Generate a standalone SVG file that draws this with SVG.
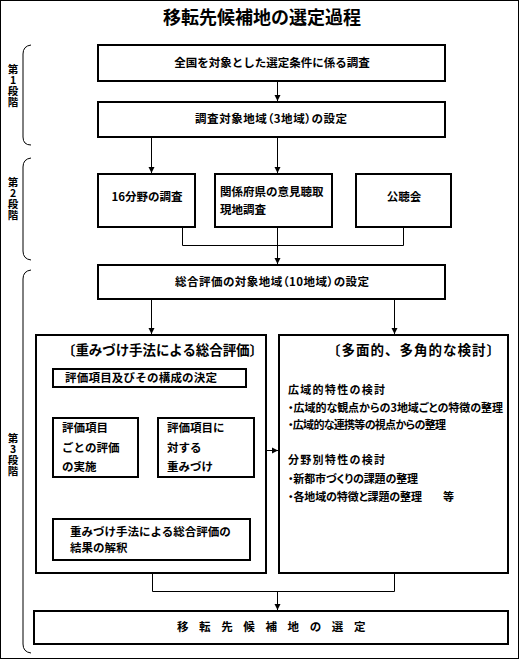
<svg xmlns="http://www.w3.org/2000/svg" width="520" height="660" viewBox="0 0 520 660">
<defs>
<marker id="ah" markerUnits="userSpaceOnUse" markerWidth="7" markerHeight="7" refX="6" refY="3.5" orient="auto">
<path d="M0,0.5 L6,3.5 L0,6.5 z" fill="#000"/>
</marker>
<style>
text{font-family:"Noto Sans CJK JP","Noto Sans CJK SC",sans-serif;font-weight:bold;fill:#000;font-size:11.5px}
.box{fill:#fff;stroke:#000;stroke-width:2}
.ln{fill:none;stroke:#000;stroke-width:1}
.arr{fill:none;stroke:#000;stroke-width:1;marker-end:url(#ah)}
.br{fill:none;stroke:#000;stroke-width:1}
.c{text-anchor:middle}
.t{font-size:18px}
.h{font-size:13.5px}
.r{font-size:11px}
.p{font-feature-settings:"palt"}
.st{font-size:10.5px;writing-mode:vertical-rl;text-orientation:upright;letter-spacing:0.5px}
</style>
</defs>
<rect x="0.5" y="0.5" width="518" height="658" fill="#fff" stroke="#000" stroke-width="1"/>
<text id="title" class="t c" x="262" y="24">移転先候補地の選定過程</text>

<g id="stage1">
<path class="br" d="M31,45 Q23,46 23,54 V137 Q23,145 31,145"/>
<text class="st" x="13" y="64">第1段階</text>
</g>
<g id="stage2">
<path class="br" d="M31,158 Q23,159 23,167 V251 Q23,259 31,260"/>
<text class="st" x="13" y="177">第2段階</text>
</g>
<g id="stage3">
<path class="br" d="M31,270 Q23,271 23,279 V644 Q23,652 31,653"/>
<text class="st" x="13" y="433">第3段階</text>
</g>

<g id="connectors">
<path class="arr" d="M277.5,82 V101"/>
<path class="arr" d="M151.5,137 V173"/>
<path class="arr" d="M277.5,137 V173"/>
<path class="ln" d="M182.5,227 V245.5 H403.5 V227"/>
<path class="arr" d="M277.5,227 V264"/>
<path class="arr" d="M151.5,299 V334"/>
<path class="arr" d="M394.5,299 V334"/>
<path class="arr" d="M146.5,387 V401"/>
<path class="ln" d="M95.5,417 V402.5 H200.5 V417"/>
<path class="ln" d="M95.5,477 V497.5 H200.5 V477"/>
<path class="arr" d="M150.5,497.5 V518"/>
<path class="arr" d="M267,450.5 H278"/>
<path class="ln" d="M152.5,573 V591.5 H394.5 V573"/>
<path class="arr" d="M277.5,591.5 V610"/>
</g>

<g id="n1">
<rect class="box" x="98" y="45" width="347" height="36"/>
<text class="c" x="272" y="67">全国を対象とした選定条件に係る調査</text>
</g>
<g id="n2">
<rect class="box" x="98" y="102" width="347" height="35"/>
<text class="p" x="195" y="123" textLength="152">調査対象地域（3地域）の設定</text>
</g>
<g id="n3">
<rect class="box" x="98" y="174" width="97" height="53"/>
<text class="c" x="147" y="201">16分野の調査</text>
</g>
<g id="n4">
<rect class="box" x="215" y="174" width="117" height="53"/>
<text x="220" y="196">関係府県の意見聴取</text>
<text x="220" y="214">現地調査</text>
</g>
<g id="n5">
<rect class="box" x="356" y="174" width="95" height="53"/>
<text class="c" x="404" y="201">公聴会</text>
</g>
<g id="n6">
<rect class="box" x="98" y="265" width="347" height="34"/>
<text class="p" x="175" y="286" textLength="194">総合評価の対象地域（10地域）の設定</text>
</g>
<g id="n7">
<rect class="box" x="36" y="335" width="230" height="238"/>
<text class="h" x="62" y="355" textLength="201">〔重みづけ手法による総合評価〕</text>
</g>
<g id="n8">
<rect class="box" x="53" y="369" width="193" height="18"/>
<text x="65" y="382" textLength="152">評価項目及びその構成の決定</text>
</g>
<g id="n9">
<rect class="box" x="53" y="418" width="85" height="59"/>
<text x="62" y="432">評価項目</text>
<text x="62" y="452">ごとの評価</text>
<text x="62" y="471">の実施</text>
</g>
<g id="n10">
<rect class="box" x="158" y="418" width="96" height="59"/>
<text x="167" y="432">評価項目に</text>
<text x="167" y="452">対する</text>
<text x="167" y="471">重みづけ</text>
</g>
<g id="n11">
<rect class="box" x="53" y="519" width="197" height="41"/>
<text x="70" y="536">重みづけ手法による総合評価の</text>
<text x="70" y="552">結果の解釈</text>
</g>
<g id="n12">
<rect class="box" x="279" y="335" width="229" height="238"/>
<text class="h" x="327" y="355" textLength="173">〔多面的、多角的な検討〕</text>
<text class="r" x="288" y="394" textLength="97">広域的特性の検討</text>
<text class="r p" x="288" y="412" textLength="215">・広域的な観点からの3地域ごとの特徴の整理</text>
<text class="r p" x="288" y="429" textLength="158">・広域的な連携等の視点からの整理</text>
<text class="r" x="288" y="464" textLength="97">分野別特性の検討</text>
<text class="r p" x="288" y="483" textLength="130">・新都市づくりの課題の整理</text>
<text class="r p" x="288" y="501"><tspan textLength="134">・各地域の特徴と課題の整理</tspan><tspan x="432">　等</tspan></text>
</g>
<g id="n13">
<rect class="box" x="34" y="611" width="474" height="33"/>
<text x="177" y="631" style="letter-spacing:4px">移 転 先 候 補 地 の 選 定</text>
</g>
</svg>
